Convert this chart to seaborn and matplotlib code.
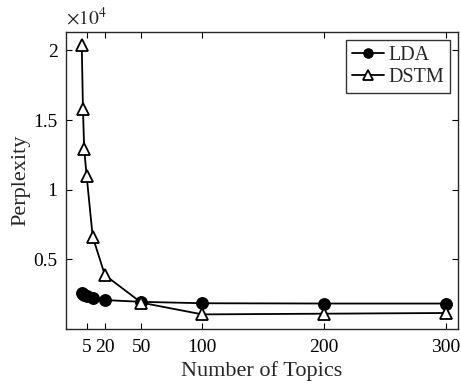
import numpy as np
import pandas as pd
import matplotlib
matplotlib.use("Agg")
import matplotlib.pyplot as plt
import seaborn as sns

topics = [1, 2, 3, 5, 10, 20, 50, 100, 200, 300]
lda = [2600, 2500, 2450, 2350, 2200, 2080, 1950, 1850, 1830, 1830]
dstm = [20370, 15760, 12900, 11000, 6620, 3870, 1890, 1050, 1100, 1150]
xticks = [5, 20, 50, 100, 200, 300]
yticks = [5000, 10000, 15000, 20000]
ytick_labels = ["0.5", "1", "1.5", "2"]

sns.set_theme(style="ticks")
plt.rcParams["font.family"] = ["Liberation Serif", "DejaVu Serif"]
plt.rcParams["mathtext.fontset"] = "stix"

df = pd.DataFrame({"x": topics * 2,
                   "y": lda + dstm,
                   "model": ["LDA"] * len(topics) + ["DSTM"] * len(topics)})

fig = plt.figure(figsize=(4.61, 3.88), dpi=100)
ax = fig.add_axes([0.143, 0.152, 0.8505, 0.766])

sns.lineplot(data=df[df.model == "LDA"], x="x", y="y", ax=ax, color="black",
             marker="o", markersize=8.5, markerfacecolor="black", markeredgecolor="black",
             linewidth=1.3, label="LDA")
sns.lineplot(data=df[df.model == "DSTM"], x="x", y="y", ax=ax, color="black",
             marker="^", markersize=8.5, markerfacecolor="white", markeredgecolor="black",
             markeredgewidth=1.3, linewidth=1.3, label="DSTM")

ax.set_xlim(-12, 310)
ax.set_ylim(0, 21330)
ax.set_xticks(xticks)
ax.set_xticklabels([str(t) for t in xticks])
ax.set_yticks(yticks)
ax.set_yticklabels(ytick_labels)
ax.tick_params(direction="in", top=True, right=True, labelsize=14, length=4,
               width=0.8, colors="black", pad=6)
ax.tick_params(axis="x", pad=7)
for s in ax.spines.values():
    s.set_linewidth(1.0)
    s.set_color("#262626")
ax.set_xlabel("Number of Topics", fontsize=16, labelpad=4)
ax.set_ylabel("Perplexity", fontsize=16, labelpad=2)
ax.text(0.0, 1.01, r"$\times10^4$", transform=ax.transAxes, fontsize=14,
        ha="left", va="bottom")

leg = ax.legend(loc="upper right", fontsize=14.5, frameon=True, fancybox=False,
                edgecolor="black", handlelength=1.6, handletextpad=0.2,
                borderpad=0.3, labelspacing=0.15, borderaxespad=0.4,
                markerscale=0.8)
leg.get_frame().set_linewidth(1.0)

fig.savefig("out.png", dpi=100)
